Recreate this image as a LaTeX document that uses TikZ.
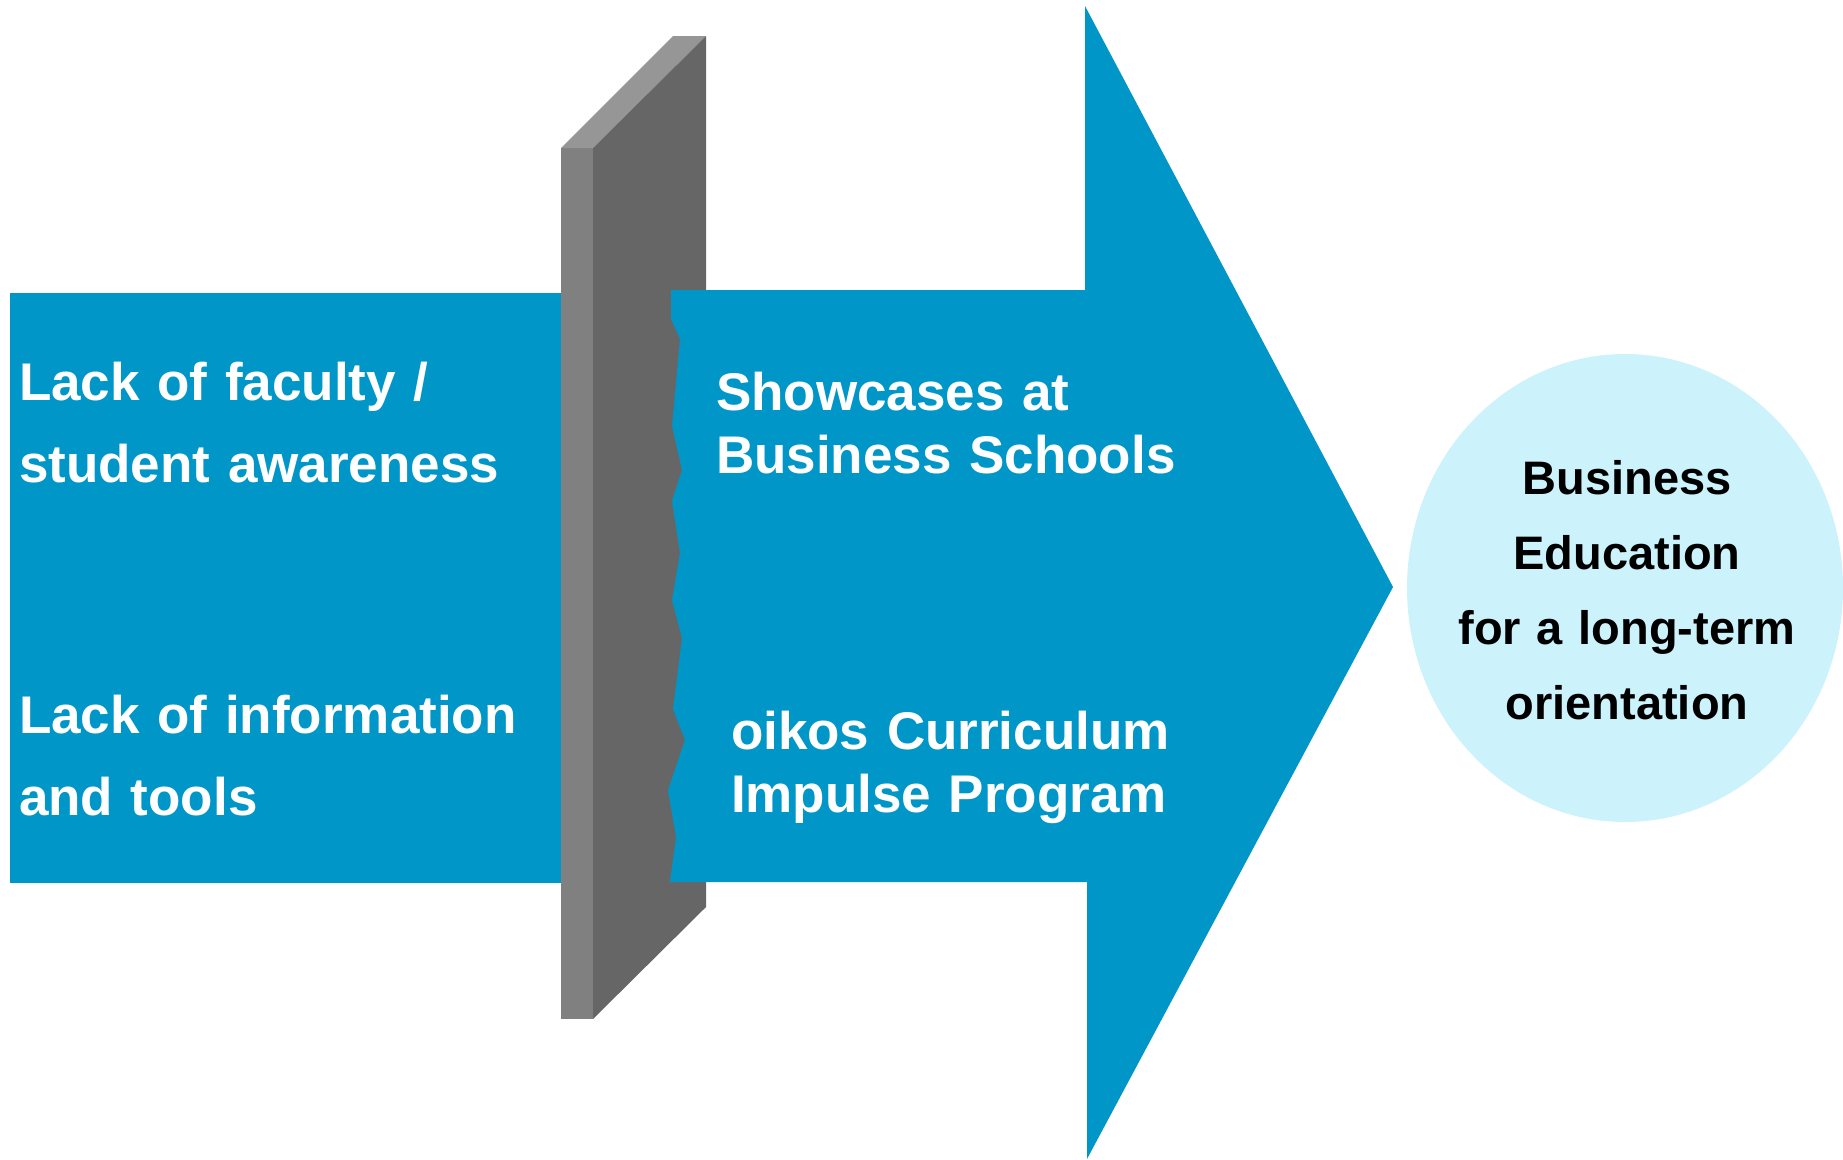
\documentclass[tikz,border=0pt]{standalone}
\usepackage{fontspec}
\setmainfont{Liberation Sans}
\definecolor{oikosblue}{HTML}{0096C8}
\definecolor{goalblue}{HTML}{CCF2FC}
\definecolor{wallfront}{HTML}{808080}
\definecolor{walltop}{HTML}{969696}
\definecolor{wallside}{HTML}{666666}

\begin{document}
\begin{tikzpicture}[x=1pt,y=-1pt,inner sep=0pt,outer sep=0pt]
  \tikzset{barrier/.style={text=white,font=\bfseries\fontsize{53}{82}\selectfont,anchor=base west,text width=530pt,align=left},
           remedy/.style={barrier,font=\bfseries\fontsize{53}{63}\selectfont,text width=500pt},
           goal/.style={font=\bfseries\fontsize{47}{75}\selectfont,anchor=base,text width=400pt,align=center}}
  \useasboundingbox (0,0) rectangle (1843,1159);
  % blocked band on the left, then the wall
  \fill[oikosblue] (10,293) rectangle (562,883);
  \fill[wallfront] (561,148) rectangle (593,1019);
  \fill[walltop] (561,148) -- (673,36) -- (706,36) -- (593,148) -- cycle;
  \fill[wallside] (593,148) -- (706,36) -- (706,907) -- (593,1019) -- cycle;
  % arrow breaking through
  \fill[oikosblue] (671,290) -- (1085,290) -- (1085,6) -- (1393,587) -- (1087,1159) -- (1087,882)
    -- (670,882) -- (676,837) -- (668,790) -- (685,740) -- (673,709) -- (682,638) -- (672,600)
    -- (680,553) -- (672,501) -- (682,470) -- (672,426) -- (680,339) -- (671,319) -- cycle;
  \fill[goalblue] (1625,588) ellipse [x radius=218, y radius=234];
  \node[barrier] (faculty) at (19,400) {Lack of faculty /\\student awareness};
  \node[barrier] (tools) at (19,733) {Lack of information\\and tools};
  \node[remedy] (showcases) at (716,410) {Showcases at\\Business Schools};
  \node[remedy] (impulse) at (731,749) {oikos Curriculum\\Impulse Program};
  \node[goal] (goal) at (1627,494) {Business\\Education\\for a long-term\\orientation};
\end{tikzpicture}
\end{document}
